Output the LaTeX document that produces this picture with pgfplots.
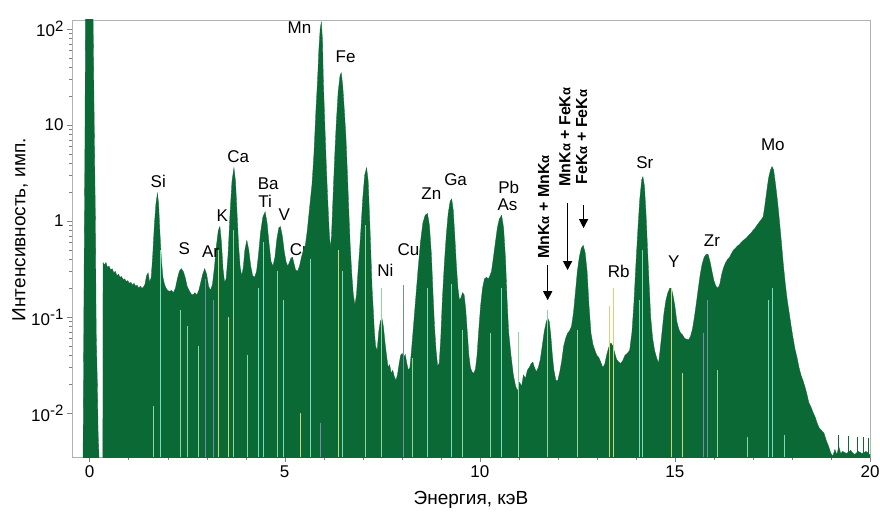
\documentclass[border=0pt]{standalone}
\usepackage{fontspec}
\setmainfont{Liberation Sans}
\usepackage{pgfplots}
\pgfplotsset{compat=1.18}
\usetikzlibrary{arrows.meta}
\definecolor{spec}{RGB}{10,105,52}
\definecolor{spA}{RGB}{140,215,160}
\definecolor{spB}{RGB}{205,215,120}
\definecolor{spC}{RGB}{115,140,175}
\definecolor{spD}{RGB}{120,220,190}
\newcommand\lab{\fontsize{17}{17}\selectfont}
\newcommand\alab{\fontsize{19}{19}\selectfont}
\newcommand\pl{\bfseries\fontsize{16}{16}\selectfont}
\newcommand\ka{K{\fontsize{13}{13}\selectfont α}}
\newcommand\sps[1]{\raisebox{0.62ex}{\fontsize{15}{15}\selectfont #1}}
\begin{document}
\begin{tikzpicture}
\begin{axis}[
  scale only axis, width=798pt, height=437pt,
  xmin=-0.45, xmax=20, ymin=0.0035, ymax=124, ymode=log,
  log origin y=infty,
  axis line style={draw=gray!60},
  tick style={color=gray},
  tick align=outside, xtick pos=bottom, ytick pos=left,
  major tick length=5pt, minor tick length=3pt,
  xtick={0,5,10,15,20}, xticklabels={0,5,10,15,20}, minor x tick num=4,
  ytick={0.01,0.1,1,10,100},
  yticklabels={10\sps{-2},10\sps{-1},1,10,10\sps{2}},
  ticklabel style={font=\lab},
  xlabel={Энергия, кэВ}, ylabel={Интенсивность, имп.},
  every axis x label/.style={at={(axis description cs:0.5,0)}, anchor=center, yshift=-43pt, font=\alab},
  every axis y label/.style={at={(axis description cs:0,0.52)}, anchor=center, rotate=90, yshift=52pt, font=\alab},
]
% element labels partly hidden by the spectrum
\node[font=\lab] at (axis cs:5.36,0.50) {Cr};
\node[font=\lab] at (axis cs:5.38,102) {Mn};
% spectrum
\addplot[fill=spec, draw=spec, line width=0.3pt] coordinates {
(-0.2,0.001) (-0.17,0.002) (-0.16,0.01) (-0.14,0.3) (-0.12,5) (-0.1,300) (0.08,300) (0.12,10) (0.15,1) (0.17,0.07) (0.2,0.02) (0.22,0.006) (0.25,0.003) (0.27,0.001) (0.34,0.001) (0.345,0.37)
(0.38,0.35) (0.42,0.37) (0.46,0.33) (0.5,0.34) (0.54,0.31) (0.58,0.32) (0.62,0.29) (0.66,0.3) (0.7,0.27) (0.74,0.28) (0.78,0.26) (0.82,0.265) (0.86,0.245) (0.9,0.25) (0.94,0.235) (0.98,0.24) (1.02,0.225) (1.06,0.23) (1.1,0.215) (1.14,0.225) (1.18,0.21) (1.22,0.215) (1.26,0.2) (1.3,0.21) (1.34,0.2) (1.38,0.205) (1.42,0.22) (1.46,0.27) (1.5,0.29) (1.54,0.23) (1.58,0.26) (1.62,0.45) (1.66,0.9) (1.7,1.5) (1.74,1.95) (1.77,1.5) (1.8,0.8) (1.84,0.4) (1.88,0.26) (1.92,0.22) (1.96,0.2) (2.0,0.19) (2.05,0.185) (2.1,0.19) (2.15,0.18) (2.2,0.2) (2.25,0.25) (2.3,0.3) (2.35,0.32) (2.4,0.3) (2.45,0.26) (2.5,0.21) (2.55,0.19) (2.6,0.175) (2.65,0.17) (2.7,0.18) (2.75,0.17) (2.8,0.19) (2.85,0.23) (2.9,0.28) (2.95,0.32) (3.0,0.28) (3.05,0.21) (3.1,0.19) (3.15,0.22) (3.2,0.33) (3.25,0.55) (3.3,0.8) (3.34,0.88) (3.38,0.6) (3.42,0.32) (3.46,0.23) (3.5,0.25) (3.55,0.45) (3.6,1.2) (3.65,2.6) (3.7,3.6) (3.74,2.6) (3.78,1.2) (3.82,0.55) (3.86,0.33) (3.9,0.27) (3.94,0.33) (3.98,0.5) (4.03,0.63) (4.08,0.5) (4.13,0.34) (4.18,0.27) (4.23,0.26) (4.28,0.3) (4.33,0.45) (4.38,0.75) (4.44,1.1) (4.5,1.25) (4.55,0.95) (4.6,0.58) (4.65,0.38) (4.7,0.34) (4.75,0.42) (4.8,0.65) (4.85,0.85) (4.89,0.88) (4.94,0.7) (4.99,0.48) (5.04,0.37) (5.08,0.34) (5.12,0.37) (5.16,0.41) (5.2,0.42) (5.24,0.36) (5.28,0.31) (5.33,0.3) (5.38,0.34) (5.43,0.42) (5.48,0.5) (5.53,0.56) (5.58,0.8) (5.64,1.4) (5.7,2.4) (5.75,5) (5.8,14) (5.84,28) (5.88,65) (5.91,100) (5.94,118) (5.97,75) (5.99,30) (6.03,10) (6.07,3.5) (6.1,1.8) (6.14,0.8) (6.17,0.52) (6.2,0.7) (6.24,1.8) (6.28,4.5) (6.32,10) (6.37,22) (6.42,33) (6.45,35) (6.49,25) (6.53,14) (6.57,7.5) (6.61,3) (6.65,1.1) (6.68,0.55) (6.72,0.28) (6.76,0.17) (6.8,0.135) (6.84,0.17) (6.88,0.3) (6.92,0.5) (6.96,0.9) (7.0,1.7) (7.05,3) (7.1,3.6) (7.14,2.6) (7.18,1.0) (7.21,0.45) (7.24,0.2) (7.27,0.12) (7.3,0.07) (7.33,0.05) (7.37,0.045) (7.41,0.07) (7.45,0.09) (7.49,0.098) (7.53,0.08) (7.57,0.055) (7.61,0.04) (7.65,0.03) (7.69,0.032) (7.73,0.026) (7.77,0.028) (7.81,0.024) (7.85,0.022) (7.89,0.025) (7.93,0.032) (7.97,0.04) (8.01,0.042) (8.05,0.038) (8.09,0.041) (8.13,0.033) (8.17,0.028) (8.21,0.03) (8.25,0.045) (8.3,0.08) (8.36,0.16) (8.42,0.32) (8.48,0.6) (8.54,0.95) (8.6,1.15) (8.66,1.2) (8.71,0.9) (8.76,0.45) (8.8,0.18) (8.84,0.08) (8.88,0.045) (8.92,0.031) (8.96,0.033) (9.0,0.06) (9.04,0.15) (9.09,0.35) (9.14,0.7) (9.19,1.2) (9.24,1.6) (9.28,1.7) (9.32,1.3) (9.36,0.7) (9.4,0.35) (9.44,0.2) (9.48,0.15) (9.52,0.16) (9.56,0.18) (9.6,0.17) (9.64,0.12) (9.68,0.07) (9.72,0.04) (9.76,0.03) (9.8,0.027) (9.85,0.026) (9.89,0.029) (9.93,0.04) (9.97,0.07) (10.02,0.13) (10.07,0.2) (10.12,0.25) (10.17,0.26) (10.22,0.25) (10.26,0.27) (10.3,0.3) (10.35,0.42) (10.4,0.6) (10.45,0.85) (10.5,1.05) (10.56,1.15) (10.61,0.85) (10.66,0.4) (10.7,0.15) (10.74,0.07) (10.8,0.04) (10.86,0.025) (10.92,0.019) (10.97,0.017) (11.02,0.021) (11.07,0.019) (11.12,0.025) (11.17,0.023) (11.22,0.028) (11.27,0.03) (11.32,0.033) (11.36,0.034) (11.4,0.03) (11.45,0.027) (11.5,0.03) (11.55,0.036) (11.6,0.05) (11.65,0.07) (11.7,0.088) (11.74,0.098) (11.78,0.09) (11.82,0.065) (11.86,0.04) (11.9,0.028) (11.95,0.022) (12.0,0.022) (12.05,0.027) (12.1,0.035) (12.15,0.05) (12.2,0.06) (12.25,0.068) (12.3,0.072) (12.35,0.08) (12.4,0.11) (12.45,0.18) (12.5,0.3) (12.55,0.42) (12.6,0.52) (12.65,0.56) (12.7,0.47) (12.75,0.3) (12.8,0.13) (12.85,0.068) (12.9,0.052) (12.95,0.045) (13.0,0.04) (13.05,0.038) (13.1,0.034) (13.15,0.03) (13.2,0.032) (13.25,0.04) (13.3,0.048) (13.36,0.054) (13.41,0.05) (13.46,0.042) (13.51,0.036) (13.56,0.034) (13.61,0.033) (13.66,0.035) (13.72,0.04) (13.78,0.042) (13.84,0.045) (13.9,0.07) (13.95,0.14) (14.0,0.35) (14.05,0.8) (14.1,1.7) (14.15,2.7) (14.18,2.9) (14.22,2.3) (14.26,1.2) (14.3,0.5) (14.34,0.22) (14.38,0.1) (14.43,0.06) (14.48,0.045) (14.53,0.038) (14.58,0.033) (14.62,0.045) (14.67,0.07) (14.72,0.11) (14.77,0.15) (14.82,0.18) (14.87,0.2) (14.91,0.2) (14.95,0.17) (15.0,0.13) (15.05,0.09) (15.1,0.075) (15.15,0.068) (15.2,0.065) (15.25,0.06) (15.3,0.059) (15.35,0.058) (15.4,0.063) (15.45,0.075) (15.5,0.1) (15.55,0.14) (15.6,0.2) (15.65,0.28) (15.7,0.36) (15.75,0.42) (15.8,0.45) (15.85,0.45) (15.9,0.38) (15.95,0.3) (16.0,0.24) (16.05,0.21) (16.1,0.2) (16.15,0.22) (16.2,0.28) (16.25,0.33) (16.3,0.37) (16.35,0.4) (16.4,0.42) (16.45,0.46) (16.5,0.5) (16.55,0.52) (16.6,0.55) (16.65,0.57) (16.7,0.6) (16.75,0.63) (16.8,0.65) (16.85,0.68) (16.9,0.72) (16.95,0.75) (17.0,0.8) (17.05,0.84) (17.1,0.9) (17.15,0.96) (17.2,1.02) (17.26,1.1) (17.3,1.4) (17.35,2.0) (17.4,2.8) (17.45,3.4) (17.49,3.7) (17.53,3.4) (17.58,2.4) (17.63,1.6) (17.68,1.0) (17.73,0.6) (17.78,0.35) (17.83,0.22) (17.88,0.15) (17.93,0.11) (17.98,0.08) (18.03,0.06) (18.08,0.046) (18.13,0.038) (18.18,0.03) (18.23,0.025) (18.28,0.022) (18.33,0.019) (18.38,0.016) (18.43,0.013) (18.49,0.0115) (18.55,0.01) (18.6,0.009) (18.65,0.0078) (18.7,0.007) (18.76,0.0066) (18.82,0.0062) (18.88,0.0052) (18.94,0.0045) (19.0,0.0038) (19.05,0.0036) (19.1,0.0042) (19.15,0.0037) (19.2,0.0045) (19.25,0.0038) (19.3,0.004) (19.4,0.0038) (19.5,0.0041) (19.6,0.0037) (19.7,0.004) (19.8,0.0038) (19.9,0.004) (20,0.0037) (20,0.001)
} -- cycle;
% thin light streaks
\addplot[ycomb, draw=spA, line width=0.9pt] coordinates {(1.63,0.012) (2.32,0.12) (2.50,0.08) (2.78,0.05) (3.68,0.8) (4.04,0.04) (4.81,0.3) (7.07,0.9) (7.48,0.2) (8.28,0.038) (9.56,0.073) (10.28,0.068) (10.99,0.07) (11.74,0.12) (12.51,0.073) (16.10,0.028) (16.87,0.0056)};
\addplot[ycomb, draw=spB, line width=0.9pt] coordinates {(3.30,0.5) (3.55,0.1) (6.38,0.5) (13.33,0.13) (13.43,0.2) (14.90,0.2) (15.20,0.026) (5.40,0.01)};
\addplot[ycomb, draw=spC, line width=0.9pt] coordinates {(2.96,0.25) (3.17,0.15) (5.91,0.008) (8.04,0.215) (15.72,0.068) (15.83,0.15)};
\addplot[ycomb, draw=spD, line width=0.9pt] coordinates {(1.81,0.5) (4.32,0.2) (4.45,0.6) (4.97,0.15) (5.66,0.4) (6.48,0.3) (8.66,0.2) (9.28,0.22) (10.56,0.2) (14.10,0.15) (14.18,0.5) (17.39,0.15) (17.51,0.2) (17.80,0.006)};
\addplot[ycomb, draw=spec, line width=0.8pt] coordinates {(19.2,0.006) (19.45,0.0058) (19.68,0.0056) (19.83,0.0057) (19.95,0.0055)};
% element labels
\node[font=\lab] at (axis cs:1.76,2.61) {Si};
\node[font=\lab] at (axis cs:2.43,0.52) {S};
\node[font=\lab] at (axis cs:3.10,0.475) {Ar};
\node[font=\lab] at (axis cs:3.40,1.13) {K};
\node[font=\lab] at (axis cs:3.81,4.64) {Ca};
\node[font=\lab] at (axis cs:4.58,2.43) {Ba};
\node[font=\lab] at (axis cs:4.50,1.61) {Ti};
\node[font=\lab] at (axis cs:4.99,1.18) {V};
\node[font=\lab] at (axis cs:6.56,52) {Fe};
\node[font=\lab] at (axis cs:7.58,0.31) {Ni};
\node[font=\lab] at (axis cs:8.17,0.51) {Cu};
\node[font=\lab] at (axis cs:8.76,1.91) {Zn};
\node[font=\lab] at (axis cs:9.38,2.67) {Ga};
\node[font=\lab] at (axis cs:10.74,2.26) {Pb};
\node[font=\lab] at (axis cs:10.71,1.47) {As};
\node[font=\lab] at (axis cs:13.56,0.30) {Rb};
\node[font=\lab] at (axis cs:14.23,4.02) {Sr};
\node[font=\lab] at (axis cs:14.97,0.38) {Y};
\node[font=\lab] at (axis cs:15.95,0.63) {Zr};
\node[font=\lab] at (axis cs:17.51,6.19) {Mo};
% pile-up annotations
\node[rotate=90, font=\pl] at (axis cs:11.64,1.40) {Mn\ka{} + Mn\ka};
\node[rotate=90, font=\pl] at (axis cs:12.18,7.5) {Mn\ka{} + Fe\ka};
\node[rotate=90, font=\pl] at (axis cs:12.61,7.5) {Fe\ka{} + Fe\ka};
\draw[-{Triangle[length=9pt,width=9pt]}, line width=1.3pt] (axis cs:11.74,0.348) -- (axis cs:11.74,0.150);
\draw[-{Triangle[length=9pt,width=9pt]}, line width=1.3pt] (axis cs:12.25,1.54) -- (axis cs:12.25,0.309);
\draw[-{Triangle[length=9pt,width=9pt]}, line width=1.3pt] (axis cs:12.66,1.47) -- (axis cs:12.66,0.845);
\end{axis}
\pgfresetboundingbox
\path[use as bounding box] (-72pt,-64pt) rectangle (808pt,457pt);
\end{tikzpicture}
\end{document}
